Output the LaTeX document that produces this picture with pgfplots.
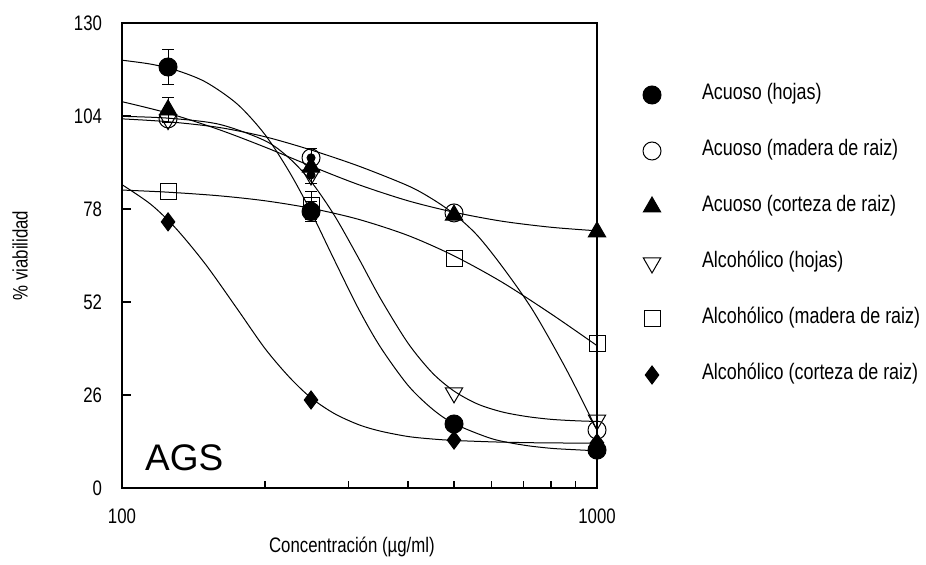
\documentclass[border=0pt]{standalone}
\usepackage{fontspec}
\setmainfont{Liberation Sans}[FakeStretch=0.8]
\newfontfamily\agsfont{Liberation Sans}
\usepackage{pgfplots}
\pgfplotsset{compat=1.18}

% fitted curves
\pgfplotstableread{
x y
100 119.6
115 118.5
130 116.8
150 113.5
175 107.3
200 98.8
225 88.4
250 77.2
280 63.7
315 50.0
350 39.4
400 28.7
450 22.1
500 18.0
600 13.8
700 12.0
800 11.1
900 10.7
1000 10.4
}\fitA
\pgfplotstableread{
x y
100 103.2
125 102.4
160 100.8
200 98.2
250 94.5
315 90.0
400 84.5
450 80.8
500 76.6
560 70.6
635 61.5
734 49.5
863 33.0
1000 16.2
}\fitB
\pgfplotstableread{
x y
100 108.0
125 104.8
160 100.2
200 95.3
250 90.0
315 84.8
400 80.3
500 77.1
630 74.6
800 72.9
1000 71.9
}\fitC
\pgfplotstableread{
x y
100 103.9
125 103.4
160 101.7
200 97.1
225 92.2
250 85.7
280 76.2
315 64.2
350 53.0
400 40.5
450 32.2
500 27.1
560 23.5
630 21.3
710 20.0
800 19.2
900 18.8
1000 18.6
}\fitD
\pgfplotstableread{
x y
100 83.3
125 82.7
160 81.7
200 80.3
250 78.2
315 75.1
400 70.6
500 64.9
630 57.6
800 48.7
1000 39.8
}\fitE
\pgfplotstableread{
x y
100 84.8
115 79.3
130 72.5
150 62.5
175 50.0
200 39.0
225 31.0
250 25.2
280 20.8
315 17.7
350 15.9
400 14.4
450 13.7
500 13.3
600 12.9
700 12.7
800 12.6
1000 12.55
}\fitF

\begin{document}
\begin{tikzpicture}
\path[use as bounding box] (-61pt,-38pt) rectangle (402pt,244pt);
\begin{axis}[
  scale only axis,
  width=237.5pt, height=232.5pt,
  xmode=log,
  xmin=100, xmax=1000,
  ymin=0, ymax=130,
  xtick={100,1000}, xticklabels={100,1000},
  minor xtick={200,300,400,500,600,700,800,900},
  ytick={0,26,52,78,104,130},
  tick align=inside,
  xtick pos=bottom, ytick pos=left,
  major tick length=4.5pt, minor tick length=3.5pt,
  axis line style={line width=0.65pt},
  tick style={line width=0.6pt, black},
  font=\fontsize{10.5}{12.6}\selectfont,
  /pgf/number format/assume math mode=true,
  yticklabel style={xshift=-6.5pt},
  xticklabel style={yshift=-7pt},
  xlabel={Concentración (µg/ml)},
  ylabel={\% viabilidad},
  xlabel style={at={(axis description cs:0.484,-0.127)}, anchor=center},
  ylabel style={at={(axis description cs:-0.2147,0.5)}, anchor=center},
  every axis plot/.append style={black, line width=0.5pt},
  legend cell align=left,
  legend style={at={(1.0737,0.8667)}, anchor=north west, draw=none, fill=none,
    inner sep=0pt, outer sep=0pt, row sep=18pt,
    font=\fontsize{11.2}{12.6}\selectfont,
    nodes={inner sep=0pt, text height=7.5pt, text depth=2.5pt}},
  legend image code/.code={\draw[#1] plot coordinates {(10pt,0pt)}; \path[draw=none] (0pt,0pt) (35pt,0pt);},
  error bars/y explicit,
  error bars/error mark=|,
  error bars/error mark options={mark size=3pt, line width=0.5pt, black},
]
\addplot[smooth, no marks, forget plot] table {\fitA};
\addplot[smooth, no marks, forget plot] table {\fitB};
\addplot[smooth, no marks, forget plot] table {\fitC};
\addplot[smooth, no marks, forget plot] table {\fitD};
\addplot[smooth, no marks, forget plot] table {\fitE};
\addplot[smooth, no marks, forget plot] table {\fitF};

% error bars of the points where they show
\addplot[only marks, mark=none, forget plot, error bars/y dir=both] coordinates {
  (125,117.7) +- (0,5.0) (250,77.3) +- (0,2.8)
  (250,92.3) +- (0,2.7)
  (125,105.7) +- (0,3.6)
  (250,87.5) +- (0,2.5)
  (250,79.0) +- (0,3.8)};

\addplot[only marks, mark=*, mark size=4.5pt, fill=black] coordinates {
  (125,117.7) (250,77.3) (500,17.9) (1000,10.6)};
\addlegendentry{Acuoso (hojas)}
\addplot[only marks, mark=o, mark size=4.5pt] coordinates {
  (125,103.2) (250,92.3) (500,76.9) (1000,16.2)};
\addlegendentry{Acuoso (madera de raiz)}
\addplot[only marks, mark=triangle*, mark size=5pt, fill=black] coordinates {
  (125,105.7) (250,89.7) (500,76.3) (1000,71.6)};
\addlegendentry{Acuoso (corteza de raiz)}
\addplot[only marks, mark=triangle, mark size=5pt, mark options={rotate=180}] coordinates {
  (125,103.0) (250,87.5) (500,26.6) (1000,19.0)};
\addlegendentry{Alcohólico (hojas)}
\addplot[only marks, mark=square, mark size=4pt] coordinates {
  (125,82.8) (250,79.0) (500,64.3) (1000,40.5)};
\addlegendentry{Alcohólico (madera de raiz)}
\addplot[only marks, mark=diamond*, mark size=4.5pt, fill=black] coordinates {
  (125,74.4) (250,24.6) (500,13.4) (1000,12.6)};
\addlegendentry{Alcohólico (corteza de raiz)}

\node[anchor=base west, font=\agsfont\fontsize{18.5}{20}\selectfont, inner sep=0pt]
  at (rel axis cs:0.048,0.0387) {AGS};
\end{axis}
\end{tikzpicture}
\end{document}
